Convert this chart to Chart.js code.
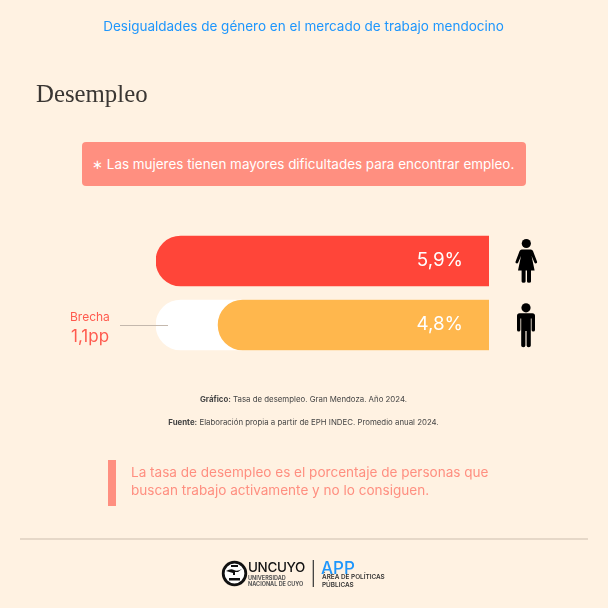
<!DOCTYPE html>
<html lang="es"><head><meta charset="utf-8">
<script src="https://cdn.jsdelivr.net/npm/chart.js@4"></script>
<style>
html,body{margin:0;padding:0;background:#fff2e2}
#wrap{position:relative;width:608px;height:608px;overflow:hidden;background:#fff2e2;font-family:Inter,sans-serif}
#wrap canvas{position:absolute;left:0;top:0}
.t{position:absolute;white-space:nowrap;line-height:1}
.c{left:0;width:607px;text-align:center}
.box{position:absolute}
svg{position:absolute;left:0;top:0}
</style></head><body>
<div id="wrap">
<canvas id="c" width="608" height="608"></canvas>
<div class="t c" style="top:20px;color:#1e96fc;font-size:13.5px">Desigualdades de género en el mercado de trabajo mendocino</div>
<div class="t" style="left:36px;top:82px;font-family:'Liberation Serif',serif;font-size:24.8px;color:#3a3633">Desempleo</div>
<div class="box" style="left:82px;top:142px;width:444px;height:44px;background:#ff8f80;border-radius:4px"></div>
<div class="t" style="left:92px;top:158px;color:#fff;font-size:13.45px">∗ Las mujeres tienen mayores dificultades para encontrar empleo.</div>
<div class="t" style="left:70px;top:311px;color:#ff5a4e;font-size:12px">Brecha</div>
<div class="t" style="left:71px;top:328px;color:#ff5a4e;font-size:17px">1,1pp</div>
<div class="t c" style="top:396px;color:#444;font-size:7.85px"><b>Gráfico:</b> Tasa de desempleo. Gran Mendoza. Año 2024.</div>
<div class="t c" style="top:419px;color:#444;font-size:7.85px"><b>Fuente:</b> Elaboración propia a partir de EPH INDEC. Promedio anual 2024.</div>
<div class="box" style="left:108px;top:460px;width:8px;height:46px;background:#ff8f80"></div>
<div class="t" style="left:131px;top:466px;color:#ff8f80;font-size:13.55px">La tasa de desempleo es el porcentaje de personas que</div>
<div class="t" style="left:131px;top:484px;color:#ff8f80;font-size:13.55px">buscan trabajo activamente y no lo consiguen.</div>
<div class="box" style="left:20px;top:538px;width:568px;height:2px;background:#e6d8c8"></div>
<svg width="608" height="608" viewBox="0 0 608 608">
  <g fill="#000">
    <circle cx="526.3" cy="243.5" r="4.6"/>
    <path d="M521.8 249.5H530.8Q532.4 249.5 533 251L537 261.5Q537.4 262.9 536.2 263.3T534.4 262.5L531.6 256L534.6 270.5H531V281.4Q531 282.8 529 282.8T527 281.4V270.5H525.6V281.4Q525.6 282.8 523.6 282.8T521.6 281.4V270.5H518L521 256L518.2 262.5Q517.6 263.7 516.4 263.3T515.6 261.5L519.6 251Q520.2 249.5 521.8 249.5Z"/>
    <circle cx="526" cy="307.8" r="4.6"/>
    <path d="M519.6 313.2H532.4Q535 313.2 535 315.8V330Q535 331.6 533.3 331.6T531.6 330V318.5H530.8V345.6Q530.8 347.2 528.7 347.2T526.6 345.6V331H525.4V345.6Q525.4 347.2 523.3 347.2T521.2 345.6V318.5H520.4V330Q520.4 331.6 518.7 331.6T517 330V315.8Q517 313.2 519.6 313.2Z"/>
    <circle cx="234.5" cy="573.5" r="11.3" fill="#fff" stroke="#111" stroke-width="2.8"/>
    <path d="M226 571q5-3 8-1t8-1l-4 3h-3v3h-2v-2zM229 578h11v2.5h-11z" fill="#111"/>
    <path d="M231 565h7v2h-7z" fill="#111"/>
  </g>
  <rect x="312.7" y="560" width="1.2" height="27" fill="#333"/>
</svg>
<div class="t" style="left:248px;top:561px;color:#111;font-size:13.4px;font-weight:500;letter-spacing:-.3px">UNCUYO</div>
<div class="t" style="left:248px;top:575.5px;color:#555;font-size:5.5px;font-weight:700">UNIVERSIDAD</div>
<div class="t" style="left:248px;top:582px;color:#555;font-size:5.5px;font-weight:700">NACIONAL DE CUYO</div>
<div class="t" style="left:321px;top:560px;color:#1e96fc;font-size:17px;font-weight:500">APP</div>
<div class="t" style="left:322px;top:574px;color:#333;font-size:6.4px;font-weight:600">ÁREA DE POLÍTICAS</div>
<div class="t" style="left:322px;top:581.5px;color:#333;font-size:6.4px;font-weight:600">PÚBLICAS</div>
</div>
<script>
const categories = ["Mujeres", "Varones"];
const unemployment = [5.9, 4.8];
const gapTrack = [null, 5.9];
const valueLabels = ["5,9%", "4,8%"];
const barColors = ["#ff4539", "#ffb74d"];

const valueLabelPlugin = {
  id: "valueLabels",
  afterDatasetsDraw(chart) {
    const ctx = chart.ctx;
    const meta = chart.getDatasetMeta(0);
    ctx.save();
    ctx.fillStyle = "#fff";
    ctx.font = "18.8px Inter, sans-serif";
    ctx.textAlign = "right";
    ctx.textBaseline = "middle";
    meta.data.forEach((bar, i) => {
      ctx.fillText(valueLabels[i], chart.chartArea.right - 26, bar.y - 1);
    });
    // leader line from the "Brecha" note into the white gap bar
    const y = meta.data[1].y;
    ctx.strokeStyle = "#c4b8ad";
    ctx.lineWidth = 1;
    ctx.beginPath();
    ctx.moveTo(120, Math.round(y) + .5);
    ctx.lineTo(168, Math.round(y) + .5);
    ctx.stroke();
    ctx.restore();
  }
};

const radius = { topLeft: 25, bottomLeft: 25, topRight: 0, bottomRight: 0 };
new Chart(document.getElementById("c"), {
  type: "bar",
  data: {
    labels: categories,
    datasets: [
      { label: "Tasa de desempleo", data: unemployment, backgroundColor: barColors,
        borderRadius: radius, borderSkipped: false, barThickness: 50, order: 1 },
      { label: "Brecha", data: gapTrack, backgroundColor: "#ffffff",
        borderRadius: radius, borderSkipped: false, barThickness: 50, order: 2 }
    ]
  },
  options: {
    indexAxis: "y",
    responsive: false,
    animation: false,
    grouped: false,
    layout: { padding: { left: 156, right: 119, top: 229, bottom: 251 } },
    plugins: { legend: { display: false }, tooltip: { enabled: false }, title: { display: false } },
    scales: {
      x: { display: false, reverse: true, min: 0, max: 5.9 },
      y: { display: false }
    }
  },
  plugins: [valueLabelPlugin]
});
</script>
</body></html>
